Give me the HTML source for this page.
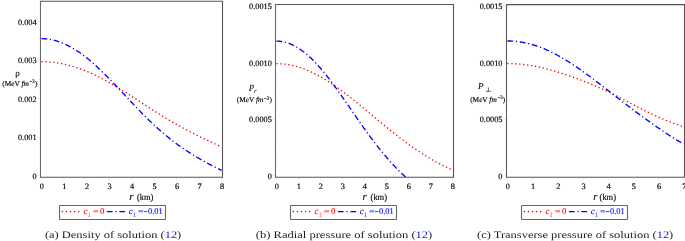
<!DOCTYPE html>
<html><head><meta charset="utf-8"><style>
html,body{margin:0;padding:0;background:#fff;width:685px;height:241px;overflow:hidden}
svg{display:block;will-change:transform}
text{font-family:"Liberation Serif",serif;text-rendering:geometricPrecision}
.t{font-size:8.3px;stroke:#000;stroke-width:0.18px}
.ax{font-size:9px;stroke:#000;stroke-width:0.1px}
.mev{font-size:7.4px;stroke:#000;stroke-width:0.15px}
.sup{font-size:5.2px;stroke:#000;stroke-width:0.15px}
.sub{font-size:6.8px}
.lgs{font-size:7.4px}
.rt{font-size:10.8px;font-style:italic;stroke:#000;stroke-width:0.12px}
.km{font-size:9px;stroke:#000;stroke-width:0.15px}
.lg{font-size:8.8px;stroke-width:0.12px}
.cap{font-size:10px;fill:#1a1a1a}
</style></head><body>
<svg width="685" height="241" viewBox="0 0 685 241">
<defs>
<clipPath id="clipa"><rect x="40.5" y="1.2" width="182.0" height="176.0"/></clipPath>
<clipPath id="clipb"><rect x="275.5" y="4.5" width="178.0" height="172.7"/></clipPath>
<clipPath id="clipc"><rect x="506.5" y="4.6" width="178.0" height="172.6"/></clipPath>
</defs>
<path d="M41.40 177.2v3M52.66 177.2v1.6M63.93 177.2v3M75.19 177.2v1.6M86.46 177.2v3M97.73 177.2v1.6M108.99 177.2v3M120.26 177.2v1.6M131.52 177.2v3M142.79 177.2v1.6M154.05 177.2v3M165.31 177.2v1.6M176.58 177.2v3M187.85 177.2v1.6M199.11 177.2v3M210.38 177.2v1.6M221.64 177.2v3M40.5 175.70h-3M40.5 137.20h-3M40.5 98.70h-3M40.5 60.20h-3M40.5 21.70h-3M40.5 156.45h-1.6M40.5 117.95h-1.6M40.5 79.45h-1.6M40.5 40.95h-1.6" stroke="#d8d8d8" stroke-width="0.6" fill="none"/>
<g clip-path="url(#clipa)" fill="none" stroke-width="1.35">
<polyline points="41.4,61.67 41.9,61.67 42.4,61.68 42.9,61.68 43.4,61.69 43.9,61.70 44.4,61.71 44.9,61.73 45.4,61.75 45.9,61.77 46.4,61.79 46.9,61.82 47.4,61.84 47.9,61.88 48.4,61.91 48.9,61.94 49.4,61.98 49.9,62.02 50.4,62.06 50.9,62.11 51.4,62.15 51.9,62.20 52.4,62.26 52.9,62.31 53.4,62.37 53.9,62.43 54.4,62.49 54.9,62.55 55.4,62.62 55.9,62.69 56.4,62.76 56.9,62.83 57.4,62.91 57.9,62.99 58.4,63.07 58.9,63.15 59.4,63.24 59.9,63.32 60.4,63.41 60.9,63.51 61.4,63.60 61.9,63.70 62.4,63.80 62.9,63.90 63.4,64.00 63.9,64.11 64.4,64.22 64.9,64.33 65.4,64.45 65.9,64.56 66.4,64.68 66.9,64.80 67.4,64.92 67.9,65.05 68.4,65.18 68.9,65.31 69.4,65.44 69.9,65.57 70.4,65.71 70.9,65.85 71.4,65.99 71.9,66.13 72.4,66.28 72.9,66.43 73.4,66.58 73.9,66.73 74.4,66.88 74.9,67.04 75.4,67.20 75.9,67.36 76.4,67.52 76.9,67.69 77.4,67.86 77.9,68.03 78.4,68.20 79.0,68.38 79.5,68.55 80.0,68.73 80.5,68.91 81.0,69.09 81.5,69.28 82.0,69.47 82.5,69.66 83.0,69.85 83.5,70.04 84.0,70.24 84.5,70.43 85.0,70.63 85.5,70.84 86.0,71.04 86.5,71.24 87.0,71.45 87.5,71.66 88.0,71.87 88.5,72.09 89.0,72.30 89.5,72.52 90.0,72.74 90.5,72.96 91.0,73.19 91.5,73.41 92.0,73.64 92.5,73.87 93.0,74.10 93.5,74.33 94.0,74.57 94.5,74.80 95.0,75.04 95.5,75.28 96.0,75.52 96.5,75.77 97.0,76.01 97.5,76.26 98.0,76.51 98.5,76.76 99.0,77.01 99.5,77.27 100.0,77.52 100.5,77.78 101.0,78.04 101.5,78.30 102.0,78.56 102.5,78.82 103.0,79.09 103.5,79.36 104.0,79.62 104.5,79.89 105.0,80.17 105.5,80.44 106.0,80.71 106.5,80.99 107.0,81.27 107.5,81.55 108.0,81.83 108.5,82.11 109.0,82.39 109.5,82.68 110.0,82.96 110.5,83.25 111.0,83.54 111.5,83.83 112.0,84.12 112.5,84.41 113.0,84.70 113.5,85.00 114.0,85.29 114.5,85.59 115.0,85.89 115.5,86.19 116.0,86.49 116.5,86.79 117.0,87.09 117.5,87.39 118.0,87.70 118.5,88.00 119.0,88.31 119.5,88.61 120.0,88.92 120.5,89.23 121.0,89.54 121.5,89.85 122.0,90.16 122.5,90.48 123.0,90.79 123.5,91.10 124.0,91.42 124.5,91.73 125.0,92.05 125.5,92.37 126.0,92.68 126.5,93.00 127.0,93.32 127.5,93.64 128.0,93.96 128.5,94.28 129.0,94.60 129.5,94.92 130.0,95.24 130.5,95.57 131.0,95.89 131.5,96.21 132.0,96.53 132.5,96.86 133.0,97.18 133.5,97.51 134.0,97.83 134.5,98.16 135.0,98.48 135.5,98.81 136.0,99.13 136.5,99.46 137.0,99.78 137.5,100.11 138.0,100.44 138.5,100.76 139.0,101.09 139.5,101.42 140.0,101.74 140.5,102.07 141.0,102.40 141.5,102.72 142.0,103.05 142.5,103.38 143.0,103.70 143.5,104.03 144.0,104.35 144.5,104.68 145.0,105.00 145.5,105.33 146.0,105.66 146.5,105.98 147.0,106.30 147.5,106.63 148.0,106.95 148.5,107.28 149.0,107.60 149.5,107.92 150.0,108.25 150.5,108.57 151.0,108.89 151.5,109.21 152.0,109.53 152.5,109.85 153.0,110.17 153.5,110.49 154.1,110.81 154.6,111.13 155.1,111.45 155.6,111.76 156.1,112.08 156.6,112.39 157.1,112.71 157.6,113.02 158.1,113.34 158.6,113.65 159.1,113.96 159.6,114.28 160.1,114.59 160.6,114.90 161.1,115.21 161.6,115.52 162.1,115.83 162.6,116.13 163.1,116.44 163.6,116.75 164.1,117.05 164.6,117.36 165.1,117.66 165.6,117.96 166.1,118.26 166.6,118.57 167.1,118.87 167.6,119.17 168.1,119.46 168.6,119.76 169.1,120.06 169.6,120.36 170.1,120.65 170.6,120.95 171.1,121.24 171.6,121.53 172.1,121.82 172.6,122.11 173.1,122.40 173.6,122.69 174.1,122.98 174.6,123.27 175.1,123.55 175.6,123.84 176.1,124.12 176.6,124.41 177.1,124.69 177.6,124.97 178.1,125.25 178.6,125.53 179.1,125.81 179.6,126.09 180.1,126.37 180.6,126.64 181.1,126.92 181.6,127.19 182.1,127.47 182.6,127.74 183.1,128.01 183.6,128.29 184.1,128.56 184.6,128.83 185.1,129.09 185.6,129.36 186.1,129.63 186.6,129.90 187.1,130.16 187.6,130.43 188.1,130.69 188.6,130.95 189.1,131.22 189.6,131.48 190.1,131.74 190.6,132.00 191.1,132.26 191.6,132.52 192.1,132.78 192.6,133.03 193.1,133.29 193.6,133.55 194.1,133.80 194.6,134.06 195.1,134.31 195.6,134.56 196.1,134.82 196.6,135.07 197.1,135.32 197.6,135.57 198.1,135.82 198.6,136.07 199.1,136.32 199.6,136.57 200.1,136.82 200.6,137.07 201.1,137.31 201.6,137.56 202.1,137.80 202.6,138.05 203.1,138.29 203.6,138.54 204.1,138.78 204.6,139.02 205.1,139.27 205.6,139.51 206.1,139.75 206.6,139.99 207.1,140.23 207.6,140.47 208.1,140.71 208.6,140.94 209.1,141.18 209.6,141.42 210.1,141.65 210.6,141.89 211.1,142.12 211.6,142.36 212.1,142.59 212.6,142.82 213.1,143.06 213.6,143.29 214.1,143.52 214.6,143.75 215.1,143.98 215.6,144.20 216.1,144.43 216.6,144.65 217.1,144.88 217.6,145.10 218.1,145.32 218.6,145.55 219.1,145.77 219.6,145.98 220.1,146.20 220.6,146.42 221.1,146.63 221.6,146.84" stroke="#ff0000" stroke-dasharray="1.3 2.65" />
<polyline points="41.4,38.66 41.9,38.66 42.4,38.67 42.9,38.68 43.4,38.70 43.9,38.72 44.4,38.75 44.9,38.78 45.4,38.82 45.9,38.86 46.4,38.91 46.9,38.96 47.4,39.02 47.9,39.08 48.4,39.15 48.9,39.22 49.4,39.30 49.9,39.38 50.4,39.47 50.9,39.56 51.4,39.65 51.9,39.76 52.4,39.86 52.9,39.97 53.4,40.09 53.9,40.21 54.4,40.34 54.9,40.47 55.4,40.60 55.9,40.74 56.4,40.89 56.9,41.04 57.4,41.19 57.9,41.35 58.4,41.52 58.9,41.69 59.4,41.86 59.9,42.04 60.4,42.22 60.9,42.41 61.4,42.60 61.9,42.80 62.4,43.00 62.9,43.21 63.4,43.42 63.9,43.63 64.4,43.85 64.9,44.08 65.4,44.31 65.9,44.54 66.4,44.78 66.9,45.02 67.4,45.27 67.9,45.52 68.4,45.78 68.9,46.04 69.4,46.30 69.9,46.57 70.4,46.84 70.9,47.12 71.4,47.40 71.9,47.69 72.4,47.98 72.9,48.27 73.4,48.57 73.9,48.88 74.4,49.18 74.9,49.49 75.4,49.81 75.9,50.13 76.4,50.45 76.9,50.78 77.4,51.11 77.9,51.44 78.4,51.78 79.0,52.13 79.5,52.47 80.0,52.82 80.5,53.18 81.0,53.54 81.5,53.90 82.0,54.26 82.5,54.63 83.0,55.00 83.5,55.38 84.0,55.76 84.5,56.14 85.0,56.53 85.5,56.92 86.0,57.32 86.5,57.71 87.0,58.11 87.5,58.52 88.0,58.92 88.5,59.33 89.0,59.75 89.5,60.16 90.0,60.58 90.5,61.01 91.0,61.43 91.5,61.86 92.0,62.29 92.5,62.73 93.0,63.17 93.5,63.61 94.0,64.05 94.5,64.50 95.0,64.95 95.5,65.40 96.0,65.85 96.5,66.31 97.0,66.77 97.5,67.23 98.0,67.70 98.5,68.17 99.0,68.64 99.5,69.11 100.0,69.58 100.5,70.06 101.0,70.54 101.5,71.02 102.0,71.50 102.5,71.99 103.0,72.48 103.5,72.97 104.0,73.46 104.5,73.95 105.0,74.45 105.5,74.94 106.0,75.44 106.5,75.94 107.0,76.45 107.5,76.95 108.0,77.46 108.5,77.96 109.0,78.47 109.5,78.98 110.0,79.50 110.5,80.01 111.0,80.52 111.5,81.04 112.0,81.56 112.5,82.08 113.0,82.60 113.5,83.12 114.0,83.64 114.5,84.16 115.0,84.69 115.5,85.21 116.0,85.74 116.5,86.27 117.0,86.79 117.5,87.32 118.0,87.85 118.5,88.38 119.0,88.91 119.5,89.44 120.0,89.97 120.5,90.51 121.0,91.04 121.5,91.57 122.0,92.10 122.5,92.64 123.0,93.17 123.5,93.70 124.0,94.24 124.5,94.77 125.0,95.31 125.5,95.84 126.0,96.38 126.5,96.91 127.0,97.44 127.5,97.98 128.0,98.51 128.5,99.04 129.0,99.58 129.5,100.11 130.0,100.64 130.5,101.18 131.0,101.71 131.5,102.24 132.0,102.77 132.5,103.30 133.0,103.83 133.5,104.36 134.0,104.88 134.5,105.41 135.0,105.94 135.5,106.46 136.0,106.99 136.5,107.51 137.0,108.03 137.5,108.55 138.0,109.08 138.5,109.59 139.0,110.11 139.5,110.63 140.0,111.15 140.5,111.66 141.0,112.17 141.5,112.69 142.0,113.20 142.5,113.71 143.0,114.21 143.5,114.72 144.0,115.23 144.5,115.73 145.0,116.23 145.5,116.73 146.0,117.23 146.5,117.73 147.0,118.22 147.5,118.72 148.0,119.21 148.5,119.70 149.0,120.19 149.5,120.68 150.0,121.16 150.5,121.65 151.0,122.13 151.5,122.61 152.0,123.08 152.5,123.56 153.0,124.03 153.5,124.50 154.1,124.97 154.6,125.44 155.1,125.91 155.6,126.37 156.1,126.83 156.6,127.29 157.1,127.75 157.6,128.20 158.1,128.66 158.6,129.11 159.1,129.55 159.6,130.00 160.1,130.44 160.6,130.89 161.1,131.33 161.6,131.76 162.1,132.20 162.6,132.63 163.1,133.06 163.6,133.49 164.1,133.92 164.6,134.34 165.1,134.76 165.6,135.18 166.1,135.60 166.6,136.01 167.1,136.42 167.6,136.83 168.1,137.24 168.6,137.64 169.1,138.05 169.6,138.45 170.1,138.85 170.6,139.24 171.1,139.64 171.6,140.03 172.1,140.42 172.6,140.80 173.1,141.19 173.6,141.57 174.1,141.95 174.6,142.33 175.1,142.71 175.6,143.08 176.1,143.45 176.6,143.82 177.1,144.19 177.6,144.55 178.1,144.92 178.6,145.28 179.1,145.63 179.6,145.99 180.1,146.35 180.6,146.70 181.1,147.05 181.6,147.40 182.1,147.74 182.6,148.09 183.1,148.43 183.6,148.77 184.1,149.11 184.6,149.45 185.1,149.78 185.6,150.11 186.1,150.45 186.6,150.78 187.1,151.10 187.6,151.43 188.1,151.75 188.6,152.08 189.1,152.40 189.6,152.72 190.1,153.03 190.6,153.35 191.1,153.66 191.6,153.98 192.1,154.29 192.6,154.60 193.1,154.91 193.6,155.21 194.1,155.52 194.6,155.82 195.1,156.13 195.6,156.43 196.1,156.73 196.6,157.03 197.1,157.32 197.6,157.62 198.1,157.91 198.6,158.21 199.1,158.50 199.6,158.79 200.1,159.08 200.6,159.37 201.1,159.66 201.6,159.94 202.1,160.23 202.6,160.51 203.1,160.79 203.6,161.07 204.1,161.35 204.6,161.63 205.1,161.91 205.6,162.19 206.1,162.46 206.6,162.74 207.1,163.01 207.6,163.28 208.1,163.55 208.6,163.82 209.1,164.09 209.6,164.36 210.1,164.63 210.6,164.89 211.1,165.15 211.6,165.42 212.1,165.68 212.6,165.93 213.1,166.19 213.6,166.45 214.1,166.70 214.6,166.95 215.1,167.20 215.6,167.45 216.1,167.70 216.6,167.94 217.1,168.19 217.6,168.43 218.1,168.67 218.6,168.90 219.1,169.14 219.6,169.37 220.1,169.60 220.6,169.82 221.1,170.05 221.6,170.27" stroke="#0000ff" stroke-dasharray="5.8 2.7 1.2 2.7" />
</g>
<path d="M39.95 1.2H223.05M39.95 177.2H223.05" stroke="#555555" stroke-width="1.1" fill="none"/>
<path d="M40.5 1.2V177.2" stroke="#6c6c6c" stroke-width="1.1" fill="none"/>
<path d="M222.5 1.2V177.2" stroke="#555555" stroke-width="1.1" fill="none"/>
<text x="41.90" y="188.9" class="t" text-anchor="middle">0</text>
<text x="64.43" y="188.9" class="t" text-anchor="middle">1</text>
<text x="86.96" y="188.9" class="t" text-anchor="middle">2</text>
<text x="109.49" y="188.9" class="t" text-anchor="middle">3</text>
<text x="132.02" y="188.9" class="t" text-anchor="middle">4</text>
<text x="154.55" y="188.9" class="t" text-anchor="middle">5</text>
<text x="177.08" y="188.9" class="t" text-anchor="middle">6</text>
<text x="199.61" y="188.9" class="t" text-anchor="middle">7</text>
<text x="222.14" y="188.9" class="t" text-anchor="middle">8</text>
<text x="36.6" y="178.80" class="t" text-anchor="end">0</text>
<text x="36.6" y="140.30" class="t" text-anchor="end">0.001</text>
<text x="36.6" y="101.80" class="t" text-anchor="end">0.002</text>
<text x="36.6" y="63.30" class="t" text-anchor="end">0.003</text>
<text x="36.6" y="24.80" class="t" text-anchor="end">0.004</text>
<path d="M276.40 177.2v3M287.40 177.2v1.6M298.40 177.2v3M309.40 177.2v1.6M320.40 177.2v3M331.40 177.2v1.6M342.40 177.2v3M353.40 177.2v1.6M364.40 177.2v3M375.40 177.2v1.6M386.40 177.2v3M397.40 177.2v1.6M408.40 177.2v3M419.40 177.2v1.6M430.40 177.2v3M441.40 177.2v1.6M452.40 177.2v3M275.5 175.60h-3M275.5 119.00h-3M275.5 62.40h-3M275.5 5.80h-3M275.5 147.30h-1.6M275.5 90.70h-1.6M275.5 34.10h-1.6" stroke="#d8d8d8" stroke-width="0.6" fill="none"/>
<g clip-path="url(#clipb)" fill="none" stroke-width="1.35">
<polyline points="276.4,63.65 276.9,63.66 277.4,63.66 277.9,63.67 278.4,63.68 278.9,63.70 279.4,63.72 279.9,63.74 280.4,63.77 280.9,63.80 281.4,63.83 281.9,63.87 282.4,63.91 282.9,63.95 283.4,64.00 283.9,64.05 284.4,64.11 284.9,64.17 285.4,64.23 285.9,64.29 286.4,64.36 286.9,64.43 287.4,64.51 287.9,64.59 288.4,64.67 288.9,64.76 289.4,64.85 289.9,64.94 290.4,65.04 290.9,65.14 291.4,65.24 291.9,65.35 292.4,65.46 292.9,65.57 293.4,65.69 293.9,65.81 294.4,65.93 294.9,66.06 295.4,66.19 295.9,66.33 296.4,66.46 296.9,66.60 297.4,66.75 297.9,66.89 298.4,67.05 298.9,67.20 299.4,67.36 299.9,67.52 300.4,67.68 300.9,67.85 301.4,68.02 301.9,68.19 302.4,68.37 302.9,68.55 303.4,68.73 303.9,68.92 304.4,69.11 304.9,69.30 305.4,69.49 305.9,69.69 306.4,69.90 306.9,70.10 307.4,70.31 307.9,70.52 308.4,70.73 308.9,70.95 309.4,71.17 309.9,71.39 310.4,71.62 310.9,71.85 311.4,72.08 311.9,72.31 312.4,72.55 312.9,72.79 313.4,73.04 313.9,73.28 314.4,73.53 314.9,73.78 315.4,74.04 315.9,74.30 316.4,74.56 316.9,74.82 317.4,75.08 317.9,75.35 318.4,75.62 318.9,75.90 319.4,76.17 319.9,76.45 320.4,76.73 320.9,77.02 321.4,77.30 321.9,77.59 322.4,77.89 322.9,78.18 323.4,78.48 323.9,78.78 324.4,79.08 324.9,79.38 325.4,79.69 325.9,80.00 326.4,80.31 326.9,80.62 327.4,80.94 327.9,81.25 328.4,81.57 328.9,81.90 329.4,82.22 329.9,82.55 330.4,82.88 330.9,83.21 331.4,83.54 331.9,83.87 332.4,84.21 332.9,84.55 333.4,84.89 333.9,85.23 334.4,85.58 334.9,85.93 335.4,86.28 335.9,86.63 336.4,86.98 336.9,87.33 337.4,87.69 337.9,88.05 338.4,88.41 338.9,88.77 339.4,89.13 339.9,89.50 340.4,89.86 340.9,90.23 341.4,90.60 341.9,90.97 342.4,91.35 342.9,91.72 343.4,92.10 343.9,92.47 344.4,92.85 344.9,93.23 345.4,93.61 345.9,94.00 346.4,94.38 346.9,94.77 347.4,95.15 347.9,95.54 348.4,95.93 348.9,96.32 349.4,96.71 349.9,97.11 350.4,97.50 350.9,97.90 351.4,98.29 351.9,98.69 352.4,99.09 352.9,99.49 353.4,99.89 353.9,100.29 354.4,100.69 354.9,101.09 355.4,101.50 355.9,101.90 356.4,102.31 356.9,102.71 357.4,103.12 357.9,103.53 358.4,103.94 358.9,104.34 359.4,104.75 359.9,105.16 360.4,105.58 360.9,105.99 361.4,106.40 361.9,106.81 362.4,107.22 362.9,107.64 363.4,108.05 363.9,108.47 364.4,108.88 364.9,109.29 365.4,109.71 365.9,110.13 366.4,110.54 366.9,110.96 367.4,111.37 367.9,111.79 368.4,112.21 368.9,112.62 369.4,113.04 369.9,113.46 370.4,113.87 370.9,114.29 371.4,114.71 371.9,115.13 372.4,115.54 372.9,115.96 373.4,116.38 373.9,116.79 374.4,117.21 374.9,117.63 375.4,118.04 375.9,118.46 376.4,118.88 376.9,119.29 377.4,119.71 377.9,120.12 378.4,120.54 378.9,120.95 379.4,121.37 379.9,121.78 380.4,122.19 380.9,122.61 381.4,123.02 381.9,123.43 382.4,123.84 382.9,124.26 383.4,124.67 383.9,125.08 384.4,125.49 384.9,125.90 385.4,126.30 385.9,126.71 386.4,127.12 386.9,127.53 387.4,127.93 387.9,128.34 388.4,128.74 388.9,129.14 389.4,129.55 389.9,129.95 390.4,130.35 390.9,130.75 391.4,131.15 391.9,131.55 392.4,131.95 392.9,132.35 393.4,132.74 393.9,133.14 394.4,133.53 394.9,133.92 395.4,134.32 395.9,134.71 396.4,135.10 396.9,135.49 397.4,135.88 397.9,136.26 398.4,136.65 398.9,137.04 399.4,137.42 399.9,137.80 400.4,138.19 400.9,138.57 401.4,138.95 401.9,139.32 402.4,139.70 402.9,140.08 403.4,140.45 403.9,140.83 404.4,141.20 404.9,141.57 405.4,141.94 405.9,142.31 406.4,142.68 406.9,143.05 407.4,143.41 407.9,143.77 408.4,144.14 408.9,144.50 409.4,144.86 409.9,145.22 410.4,145.57 410.9,145.93 411.4,146.28 411.9,146.64 412.4,146.99 412.9,147.34 413.4,147.69 413.9,148.04 414.4,148.38 414.9,148.73 415.4,149.07 415.9,149.41 416.4,149.75 416.9,150.09 417.4,150.43 417.9,150.77 418.4,151.10 418.9,151.43 419.4,151.76 419.9,152.09 420.4,152.42 420.9,152.75 421.4,153.08 421.9,153.40 422.4,153.72 422.9,154.04 423.4,154.36 423.9,154.68 424.4,155.00 424.9,155.31 425.4,155.62 425.9,155.94 426.4,156.24 426.9,156.55 427.4,156.86 427.9,157.16 428.4,157.47 428.9,157.77 429.4,158.07 429.9,158.37 430.4,158.66 430.9,158.96 431.4,159.25 431.9,159.54 432.4,159.83 432.9,160.12 433.4,160.41 433.9,160.69 434.4,160.98 434.9,161.26 435.4,161.54 435.9,161.81 436.4,162.09 436.9,162.36 437.4,162.64 437.9,162.91 438.4,163.17 438.9,163.44 439.4,163.71 439.9,163.97 440.4,164.23 440.9,164.49 441.4,164.74 441.9,165.00 442.4,165.25 442.9,165.50 443.4,165.75 443.9,166.00 444.4,166.24 444.9,166.49 445.4,166.73 445.9,166.96 446.4,167.20 446.9,167.43 447.4,167.67 447.9,167.90 448.4,168.12 448.9,168.35 449.4,168.57 449.9,168.79 450.4,169.01 450.9,169.22 451.4,169.44 451.9,169.65 452.4,169.85" stroke="#ff0000" stroke-dasharray="1.3 2.65" />
<polyline points="276.4,41.11 276.9,41.11 277.4,41.12 277.9,41.14 278.4,41.17 278.9,41.20 279.4,41.24 279.9,41.29 280.4,41.34 280.9,41.41 281.4,41.48 281.9,41.56 282.4,41.64 282.9,41.73 283.4,41.83 283.9,41.94 284.4,42.05 284.9,42.17 285.4,42.30 285.9,42.44 286.4,42.58 286.9,42.73 287.4,42.89 287.9,43.06 288.4,43.23 288.9,43.41 289.4,43.60 289.9,43.79 290.4,43.99 290.9,44.20 291.4,44.42 291.9,44.64 292.4,44.87 292.9,45.10 293.4,45.35 293.9,45.60 294.4,45.86 294.9,46.12 295.4,46.39 295.9,46.67 296.4,46.96 296.9,47.25 297.4,47.55 297.9,47.86 298.4,48.17 298.9,48.49 299.4,48.82 299.9,49.15 300.4,49.49 300.9,49.84 301.4,50.19 301.9,50.55 302.4,50.92 302.9,51.29 303.4,51.67 303.9,52.05 304.4,52.45 304.9,52.85 305.4,53.25 305.9,53.66 306.4,54.08 306.9,54.50 307.4,54.93 307.9,55.37 308.4,55.81 308.9,56.26 309.4,56.72 309.9,57.18 310.4,57.64 310.9,58.11 311.4,58.59 311.9,59.08 312.4,59.57 312.9,60.06 313.4,60.56 313.9,61.07 314.4,61.58 314.9,62.10 315.4,62.62 315.9,63.15 316.4,63.68 316.9,64.22 317.4,64.76 317.9,65.31 318.4,65.87 318.9,66.43 319.4,66.99 319.9,67.56 320.4,68.13 320.9,68.71 321.4,69.29 321.9,69.88 322.4,70.47 322.9,71.07 323.4,71.67 323.9,72.28 324.4,72.89 324.9,73.50 325.4,74.12 325.9,74.74 326.4,75.37 326.9,76.00 327.4,76.63 327.9,77.27 328.4,77.91 328.9,78.56 329.4,79.21 329.9,79.86 330.4,80.52 330.9,81.17 331.4,81.84 331.9,82.50 332.4,83.17 332.9,83.84 333.4,84.52 333.9,85.20 334.4,85.88 334.9,86.56 335.4,87.25 335.9,87.93 336.4,88.63 336.9,89.32 337.4,90.02 337.9,90.71 338.4,91.41 338.9,92.12 339.4,92.82 339.9,93.53 340.4,94.23 340.9,94.94 341.4,95.65 341.9,96.37 342.4,97.08 342.9,97.80 343.4,98.51 343.9,99.23 344.4,99.95 344.9,100.67 345.4,101.39 345.9,102.12 346.4,102.84 346.9,103.56 347.4,104.29 347.9,105.01 348.4,105.74 348.9,106.47 349.4,107.19 349.9,107.92 350.4,108.65 350.9,109.37 351.4,110.10 351.9,110.83 352.4,111.55 352.9,112.28 353.4,113.01 353.9,113.73 354.4,114.46 354.9,115.18 355.4,115.90 355.9,116.63 356.4,117.35 356.9,118.07 357.4,118.79 357.9,119.51 358.4,120.23 358.9,120.95 359.4,121.67 359.9,122.38 360.4,123.10 360.9,123.81 361.4,124.52 361.9,125.23 362.4,125.94 362.9,126.64 363.4,127.35 363.9,128.05 364.4,128.75 364.9,129.45 365.4,130.15 365.9,130.84 366.4,131.54 366.9,132.23 367.4,132.92 367.9,133.60 368.4,134.29 368.9,134.97 369.4,135.65 369.9,136.33 370.4,137.00 370.9,137.68 371.4,138.35 371.9,139.01 372.4,139.68 372.9,140.34 373.4,141.00 373.9,141.66 374.4,142.31 374.9,142.97 375.4,143.61 375.9,144.26 376.4,144.90 376.9,145.55 377.4,146.18 377.9,146.82 378.4,147.45 378.9,148.08 379.4,148.71 379.9,149.33 380.4,149.95 380.9,150.57 381.4,151.18 381.9,151.79 382.4,152.40 382.9,153.01 383.4,153.61 383.9,154.21 384.4,154.81 384.9,155.40 385.4,155.99 385.9,156.58 386.4,157.16 386.9,157.74 387.4,158.32 387.9,158.89 388.4,159.46 388.9,160.03 389.4,160.60 389.9,161.16 390.4,161.72 390.9,162.28 391.4,162.83 391.9,163.38 392.4,163.92 392.9,164.47 393.4,165.00 393.9,165.54 394.4,166.07 394.9,166.60 395.4,167.13 395.9,167.65 396.4,168.17 396.9,168.69 397.4,169.20 397.9,169.71 398.4,170.21 398.9,170.71 399.4,171.21 399.9,171.70 400.4,172.19 400.9,172.68 401.4,173.16 401.9,173.64 402.4,174.11 402.9,174.58 403.4,175.04 403.9,175.50 404.4,175.96 404.9,176.41 405.4,176.85 405.9,177.29 406.4,177.73 406.9,178.16 407.4,178.58 407.9,179.00 408.4,179.41 408.9,179.82 409.4,180.21" stroke="#0000ff" stroke-dasharray="5.8 2.7 1.2 2.7" />
</g>
<path d="M274.95 4.5H454.05M274.95 177.2H454.05" stroke="#555555" stroke-width="1.1" fill="none"/>
<path d="M275.5 4.5V177.2" stroke="#6c6c6c" stroke-width="1.1" fill="none"/>
<path d="M453.5 4.5V177.2" stroke="#555555" stroke-width="1.1" fill="none"/>
<text x="276.90" y="188.9" class="t" text-anchor="middle">0</text>
<text x="298.90" y="188.9" class="t" text-anchor="middle">1</text>
<text x="320.90" y="188.9" class="t" text-anchor="middle">2</text>
<text x="342.90" y="188.9" class="t" text-anchor="middle">3</text>
<text x="364.90" y="188.9" class="t" text-anchor="middle">4</text>
<text x="386.90" y="188.9" class="t" text-anchor="middle">5</text>
<text x="408.90" y="188.9" class="t" text-anchor="middle">6</text>
<text x="430.90" y="188.9" class="t" text-anchor="middle">7</text>
<text x="452.90" y="188.9" class="t" text-anchor="middle">8</text>
<text x="271.9" y="178.70" class="t" text-anchor="end">0</text>
<text x="271.9" y="122.10" class="t" text-anchor="end">0.0005</text>
<text x="271.9" y="65.50" class="t" text-anchor="end">0.0010</text>
<text x="271.9" y="8.90" class="t" text-anchor="end">0.0015</text>
<path d="M507.40 177.2v3M520.00 177.2v1.6M532.59 177.2v3M545.19 177.2v1.6M557.78 177.2v3M570.38 177.2v1.6M582.97 177.2v3M595.57 177.2v1.6M608.16 177.2v3M620.75 177.2v1.6M633.35 177.2v3M645.95 177.2v1.6M658.54 177.2v3M671.13 177.2v1.6M683.73 177.2v3M506.5 175.60h-3M506.5 119.00h-3M506.5 62.40h-3M506.5 5.80h-3M506.5 147.30h-1.6M506.5 90.70h-1.6M506.5 34.10h-1.6" stroke="#d8d8d8" stroke-width="0.6" fill="none"/>
<g clip-path="url(#clipc)" fill="none" stroke-width="1.35">
<polyline points="507.4,63.51 507.9,63.51 508.4,63.51 508.9,63.51 509.4,63.52 509.9,63.53 510.4,63.54 510.9,63.55 511.4,63.57 511.9,63.58 512.4,63.60 512.9,63.62 513.4,63.64 513.9,63.66 514.4,63.69 514.9,63.72 515.4,63.75 515.9,63.78 516.4,63.81 516.9,63.84 517.4,63.88 517.9,63.92 518.4,63.96 518.9,64.00 519.4,64.04 519.9,64.09 520.4,64.14 520.9,64.18 521.4,64.24 521.9,64.29 522.4,64.34 522.9,64.40 523.4,64.46 523.9,64.52 524.4,64.58 524.9,64.64 525.4,64.70 525.9,64.77 526.4,64.84 526.9,64.91 527.4,64.98 527.9,65.05 528.4,65.13 528.9,65.20 529.4,65.28 529.9,65.36 530.4,65.44 530.9,65.53 531.4,65.61 531.9,65.70 532.4,65.79 532.9,65.87 533.4,65.97 533.9,66.06 534.5,66.15 535.0,66.25 535.5,66.34 536.0,66.44 536.5,66.54 537.0,66.64 537.5,66.75 538.0,66.85 538.5,66.96 539.0,67.07 539.5,67.17 540.0,67.28 540.5,67.40 541.0,67.51 541.5,67.62 542.0,67.74 542.5,67.86 543.0,67.98 543.5,68.09 544.0,68.22 544.5,68.34 545.0,68.46 545.5,68.59 546.0,68.71 546.5,68.84 547.0,68.97 547.5,69.10 548.0,69.23 548.5,69.36 549.0,69.50 549.5,69.63 550.0,69.77 550.5,69.91 551.0,70.04 551.5,70.18 552.0,70.32 552.5,70.47 553.0,70.61 553.5,70.75 554.0,70.90 554.5,71.04 555.0,71.19 555.5,71.34 556.0,71.49 556.5,71.64 557.0,71.79 557.5,71.94 558.0,72.10 558.5,72.25 559.0,72.41 559.5,72.56 560.0,72.72 560.5,72.88 561.0,73.04 561.5,73.20 562.0,73.36 562.5,73.52 563.0,73.69 563.5,73.85 564.0,74.01 564.5,74.18 565.0,74.35 565.5,74.51 566.0,74.68 566.5,74.85 567.0,75.02 567.5,75.19 568.0,75.37 568.5,75.54 569.0,75.71 569.5,75.89 570.0,76.06 570.5,76.24 571.0,76.42 571.5,76.59 572.0,76.77 572.5,76.95 573.0,77.13 573.5,77.32 574.0,77.50 574.5,77.68 575.0,77.86 575.5,78.05 576.0,78.23 576.5,78.42 577.0,78.61 577.5,78.79 578.0,78.98 578.5,79.17 579.0,79.36 579.5,79.55 580.0,79.75 580.5,79.94 581.0,80.13 581.5,80.33 582.0,80.52 582.5,80.72 583.0,80.91 583.5,81.11 584.0,81.31 584.5,81.51 585.0,81.71 585.5,81.91 586.0,82.11 586.5,82.31 587.0,82.51 587.5,82.72 588.1,82.92 588.6,83.13 589.1,83.33 589.6,83.54 590.1,83.75 590.6,83.96 591.1,84.17 591.6,84.38 592.1,84.59 592.6,84.80 593.1,85.01 593.6,85.23 594.1,85.44 594.6,85.66 595.1,85.87 595.6,86.09 596.1,86.31 596.6,86.53 597.1,86.75 597.6,86.97 598.1,87.19 598.6,87.41 599.1,87.63 599.6,87.86 600.1,88.08 600.6,88.31 601.1,88.53 601.6,88.76 602.1,88.99 602.6,89.22 603.1,89.45 603.6,89.68 604.1,89.91 604.6,90.14 605.1,90.37 605.6,90.61 606.1,90.84 606.6,91.08 607.1,91.31 607.6,91.55 608.1,91.79 608.6,92.03 609.1,92.27 609.6,92.51 610.1,92.75 610.6,92.99 611.1,93.24 611.6,93.48 612.1,93.73 612.6,93.97 613.1,94.22 613.6,94.46 614.1,94.71 614.6,94.96 615.1,95.21 615.6,95.46 616.1,95.71 616.6,95.96 617.1,96.21 617.6,96.47 618.1,96.72 618.6,96.97 619.1,97.23 619.6,97.49 620.1,97.74 620.6,98.00 621.1,98.26 621.6,98.51 622.1,98.77 622.6,99.03 623.1,99.29 623.6,99.55 624.1,99.81 624.6,100.07 625.1,100.33 625.6,100.60 626.1,100.86 626.6,101.12 627.1,101.38 627.6,101.65 628.1,101.91 628.6,102.18 629.1,102.44 629.6,102.70 630.1,102.97 630.6,103.23 631.1,103.50 631.6,103.76 632.1,104.03 632.6,104.29 633.1,104.56 633.6,104.82 634.1,105.09 634.6,105.35 635.1,105.62 635.6,105.88 636.1,106.15 636.6,106.41 637.1,106.68 637.6,106.94 638.1,107.20 638.6,107.47 639.1,107.73 639.6,107.99 640.1,108.25 640.6,108.52 641.2,108.78 641.7,109.04 642.2,109.30 642.7,109.55 643.2,109.81 643.7,110.07 644.2,110.33 644.7,110.58 645.2,110.84 645.7,111.09 646.2,111.34 646.7,111.60 647.2,111.85 647.7,112.10 648.2,112.35 648.7,112.59 649.2,112.84 649.7,113.08 650.2,113.33 650.7,113.57 651.2,113.81 651.7,114.05 652.2,114.29 652.7,114.53 653.2,114.76 653.7,115.00 654.2,115.23 654.7,115.46 655.2,115.69 655.7,115.92 656.2,116.15 656.7,116.37 657.2,116.60 657.7,116.82 658.2,117.04 658.7,117.26 659.2,117.47 659.7,117.69 660.2,117.90 660.7,118.11 661.2,118.32 661.7,118.53 662.2,118.74 662.7,118.94 663.2,119.15 663.7,119.35 664.2,119.55 664.7,119.75 665.2,119.94 665.7,120.14 666.2,120.33 666.7,120.53 667.2,120.72 667.7,120.91 668.2,121.10 668.7,121.28 669.2,121.47 669.7,121.65 670.2,121.84 670.7,122.02 671.2,122.20 671.7,122.39 672.2,122.57 672.7,122.75 673.2,122.93 673.7,123.11 674.2,123.29 674.7,123.47 675.2,123.65 675.7,123.83 676.2,124.01 676.7,124.19 677.2,124.38 677.7,124.56 678.2,124.75 678.7,124.93 679.2,125.12 679.7,125.31 680.2,125.51 680.7,125.70 681.2,125.90 681.7,126.10 682.2,126.31 682.7,126.52 683.2,126.73 683.7,126.95" stroke="#ff0000" stroke-dasharray="1.3 2.65" />
<polyline points="507.4,40.96 507.9,40.96 508.4,40.97 508.9,40.97 509.4,40.98 509.9,41.00 510.4,41.01 510.9,41.03 511.4,41.06 511.9,41.08 512.4,41.11 512.9,41.14 513.4,41.17 513.9,41.21 514.4,41.25 514.9,41.30 515.4,41.34 515.9,41.39 516.4,41.44 516.9,41.50 517.4,41.56 517.9,41.62 518.4,41.68 518.9,41.75 519.4,41.82 519.9,41.89 520.4,41.97 520.9,42.05 521.4,42.13 521.9,42.21 522.4,42.30 522.9,42.39 523.4,42.48 523.9,42.58 524.4,42.68 524.9,42.78 525.4,42.88 525.9,42.99 526.4,43.10 526.9,43.22 527.4,43.33 527.9,43.45 528.4,43.57 528.9,43.70 529.4,43.83 529.9,43.96 530.4,44.09 530.9,44.23 531.4,44.37 531.9,44.51 532.4,44.65 532.9,44.80 533.4,44.95 533.9,45.11 534.5,45.26 535.0,45.42 535.5,45.58 536.0,45.75 536.5,45.91 537.0,46.08 537.5,46.25 538.0,46.43 538.5,46.61 539.0,46.79 539.5,46.97 540.0,47.16 540.5,47.34 541.0,47.53 541.5,47.73 542.0,47.92 542.5,48.12 543.0,48.33 543.5,48.53 544.0,48.74 544.5,48.95 545.0,49.16 545.5,49.37 546.0,49.59 546.5,49.81 547.0,50.03 547.5,50.25 548.0,50.48 548.5,50.71 549.0,50.94 549.5,51.18 550.0,51.41 550.5,51.65 551.0,51.89 551.5,52.14 552.0,52.38 552.5,52.63 553.0,52.88 553.5,53.13 554.0,53.39 554.5,53.65 555.0,53.91 555.5,54.17 556.0,54.43 556.5,54.70 557.0,54.97 557.5,55.24 558.0,55.51 558.5,55.79 559.0,56.07 559.5,56.35 560.0,56.63 560.5,56.91 561.0,57.20 561.5,57.49 562.0,57.78 562.5,58.07 563.0,58.36 563.5,58.66 564.0,58.96 564.5,59.26 565.0,59.56 565.5,59.86 566.0,60.17 566.5,60.48 567.0,60.79 567.5,61.10 568.0,61.41 568.5,61.73 569.0,62.04 569.5,62.36 570.0,62.68 570.5,63.01 571.0,63.33 571.5,63.65 572.0,63.98 572.5,64.31 573.0,64.64 573.5,64.97 574.0,65.31 574.5,65.64 575.0,65.98 575.5,66.32 576.0,66.66 576.5,67.00 577.0,67.34 577.5,67.68 578.0,68.03 578.5,68.38 579.0,68.72 579.5,69.07 580.0,69.42 580.5,69.78 581.0,70.13 581.5,70.48 582.0,70.84 582.5,71.20 583.0,71.55 583.5,71.91 584.0,72.27 584.5,72.64 585.0,73.00 585.5,73.36 586.0,73.73 586.5,74.09 587.0,74.46 587.5,74.83 588.1,75.20 588.6,75.57 589.1,75.94 589.6,76.31 590.1,76.68 590.6,77.06 591.1,77.43 591.6,77.80 592.1,78.18 592.6,78.56 593.1,78.93 593.6,79.31 594.1,79.69 594.6,80.07 595.1,80.45 595.6,80.83 596.1,81.21 596.6,81.59 597.1,81.98 597.6,82.36 598.1,82.74 598.6,83.13 599.1,83.51 599.6,83.89 600.1,84.28 600.6,84.67 601.1,85.05 601.6,85.44 602.1,85.82 602.6,86.21 603.1,86.60 603.6,86.99 604.1,87.37 604.6,87.76 605.1,88.15 605.6,88.54 606.1,88.93 606.6,89.32 607.1,89.71 607.6,90.10 608.1,90.49 608.6,90.87 609.1,91.26 609.6,91.65 610.1,92.04 610.6,92.43 611.1,92.82 611.6,93.21 612.1,93.60 612.6,93.99 613.1,94.38 613.6,94.77 614.1,95.16 614.6,95.55 615.1,95.94 615.6,96.33 616.1,96.72 616.6,97.10 617.1,97.49 617.6,97.88 618.1,98.27 618.6,98.66 619.1,99.05 619.6,99.43 620.1,99.82 620.6,100.21 621.1,100.59 621.6,100.98 622.1,101.36 622.6,101.75 623.1,102.14 623.6,102.52 624.1,102.90 624.6,103.29 625.1,103.67 625.6,104.06 626.1,104.44 626.6,104.82 627.1,105.20 627.6,105.59 628.1,105.97 628.6,106.35 629.1,106.73 629.6,107.11 630.1,107.49 630.6,107.87 631.1,108.24 631.6,108.62 632.1,109.00 632.6,109.38 633.1,109.75 633.6,110.13 634.1,110.51 634.6,110.88 635.1,111.26 635.6,111.63 636.1,112.00 636.6,112.38 637.1,112.75 637.6,113.12 638.1,113.49 638.6,113.86 639.1,114.23 639.6,114.60 640.1,114.97 640.6,115.34 641.2,115.71 641.7,116.08 642.2,116.44 642.7,116.81 643.2,117.18 643.7,117.54 644.2,117.91 644.7,118.27 645.2,118.63 645.7,119.00 646.2,119.36 646.7,119.72 647.2,120.08 647.7,120.44 648.2,120.80 648.7,121.16 649.2,121.52 649.7,121.88 650.2,122.24 650.7,122.59 651.2,122.95 651.7,123.31 652.2,123.66 652.7,124.02 653.2,124.37 653.7,124.72 654.2,125.08 654.7,125.43 655.2,125.78 655.7,126.13 656.2,126.48 656.7,126.83 657.2,127.18 657.7,127.53 658.2,127.87 658.7,128.22 659.2,128.57 659.7,128.91 660.2,129.25 660.7,129.60 661.2,129.94 661.7,130.28 662.2,130.62 662.7,130.96 663.2,131.30 663.7,131.64 664.2,131.98 664.7,132.32 665.2,132.65 665.7,132.99 666.2,133.32 666.7,133.65 667.2,133.98 667.7,134.31 668.2,134.64 668.7,134.97 669.2,135.29 669.7,135.62 670.2,135.94 670.7,136.26 671.2,136.58 671.7,136.90 672.2,137.22 672.7,137.54 673.2,137.85 673.7,138.16 674.2,138.47 674.7,138.78 675.2,139.09 675.7,139.39 676.2,139.70 676.7,140.00 677.2,140.29 677.7,140.59 678.2,140.88 678.7,141.17 679.2,141.46 679.7,141.74 680.2,142.02 680.7,142.30 681.2,142.58 681.7,142.85 682.2,143.12 682.7,143.38 683.2,143.64 683.7,143.90" stroke="#0000ff" stroke-dasharray="5.8 2.7 1.2 2.7" />
</g>
<path d="M505.95 4.6H685.05M505.95 177.2H685.05" stroke="#555555" stroke-width="1.1" fill="none"/>
<path d="M506.5 4.6V177.2" stroke="#5c5c5c" stroke-width="1.1" fill="none"/>
<path d="M684.5 4.6V177.2" stroke="#555555" stroke-width="1.1" fill="none"/>
<text x="507.90" y="188.9" class="t" text-anchor="middle">0</text>
<text x="533.09" y="188.9" class="t" text-anchor="middle">1</text>
<text x="558.28" y="188.9" class="t" text-anchor="middle">2</text>
<text x="583.47" y="188.9" class="t" text-anchor="middle">3</text>
<text x="608.66" y="188.9" class="t" text-anchor="middle">4</text>
<text x="633.85" y="188.9" class="t" text-anchor="middle">5</text>
<text x="659.04" y="188.9" class="t" text-anchor="middle">6</text>
<text x="684.23" y="188.9" class="t" text-anchor="middle">7</text>
<text x="502.5" y="178.70" class="t" text-anchor="end">0</text>
<text x="502.5" y="122.10" class="t" text-anchor="end">0.0005</text>
<text x="502.5" y="65.50" class="t" text-anchor="end">0.0010</text>
<text x="502.5" y="8.90" class="t" text-anchor="end">0.0015</text>
<text x="15.2" y="76.2" class="ax">ρ</text>
<text x="2.3" y="86.2" class="mev" textLength="26.5" lengthAdjust="spacingAndGlyphs">(MeV <tspan font-style="italic">fm</tspan></text><text x="29.6" y="83.3" class="sup" textLength="5" lengthAdjust="spacingAndGlyphs">−3</text><text x="34.9" y="86.2" class="mev">)</text>
<text x="249.6" y="89.2" class="ax" font-style="italic">p</text><text x="253.9" y="92.7" class="sub" font-style="italic">r</text>
<text x="236.8" y="102.4" class="mev" textLength="26.5" lengthAdjust="spacingAndGlyphs">(MeV <tspan font-style="italic">fm</tspan></text><text x="264.1" y="99.5" class="sup" textLength="5" lengthAdjust="spacingAndGlyphs">−3</text><text x="269.4" y="102.4" class="mev">)</text>
<text x="478" y="88.7" class="ax" font-style="italic">P</text>
<path d="M488.4 87.4V91.2M485.9 91.3H490.9" stroke="#333" stroke-width="0.75" fill="none"/>
<text x="470.2" y="102.3" class="mev" textLength="26.5" lengthAdjust="spacingAndGlyphs">(MeV <tspan font-style="italic">fm</tspan></text><text x="497.5" y="99.4" class="sup" textLength="5" lengthAdjust="spacingAndGlyphs">−3</text><text x="502.8" y="102.3" class="mev">)</text>
<text x="129.3" y="199.6" class="rt">r</text>
<text x="136.9" y="199.6" class="km" textLength="16.4" lengthAdjust="spacingAndGlyphs">(km)</text>
<text x="362.6" y="199.6" class="rt">r</text>
<text x="370.6" y="199.6" class="km" textLength="16.4" lengthAdjust="spacingAndGlyphs">(km)</text>
<text x="593.3" y="199.6" class="rt">r</text>
<text x="599.6" y="199.6" class="km" textLength="16.4" lengthAdjust="spacingAndGlyphs">(km)</text>
<g transform="translate(0,0)"><rect x="59.5" y="205.5" width="106" height="14" fill="#fff" stroke="#666" stroke-width="1.1" rx="0.4"/><path d="M62.3 211.6H80" stroke="#ff0000" stroke-width="1.6" stroke-linecap="round" stroke-dasharray="0 4.1"/><path d="M106.9 211.6H126" stroke="#0000ff" stroke-width="1.3" stroke-dasharray="5.7 2.8 1.2 2.8"/><text x="83.4" y="214.1" class="lg" font-style="italic" style="fill:#ff0000;stroke:#ff0000">c</text><text x="87.2" y="217.3" class="lgs" style="fill:#ff0000;fill-opacity:0.75">1</text><rect x="93.3" y="210.0" width="4.8" height="2.4" fill="#ff0000" fill-opacity="0.45"/><text x="128.8" y="214.1" class="lg" font-style="italic" style="fill:#0000ff;stroke:#0000ff">c</text><text x="132.4" y="217.3" class="lgs" style="fill:#0000ff;fill-opacity:0.75">1</text><rect x="138.4" y="210.0" width="4.8" height="2.4" fill="#0000ff" fill-opacity="0.45"/><text x="100.1" y="214.2" class="lg" style="fill:#ff0000;stroke:#ff0000">0</text><path d="M144.0 211.6h3.3" stroke="#0000ff" stroke-width="0.8"/><text x="148.1" y="214.2" class="lg" style="fill:#0000ff;stroke:#0000ff" textLength="14.6" lengthAdjust="spacingAndGlyphs">0.01</text></g>
<g transform="translate(231,0)"><rect x="59.5" y="205.5" width="106" height="14" fill="#fff" stroke="#666" stroke-width="1.1" rx="0.4"/><path d="M62.3 211.6H80" stroke="#ff0000" stroke-width="1.6" stroke-linecap="round" stroke-dasharray="0 4.1"/><path d="M106.9 211.6H126" stroke="#0000ff" stroke-width="1.3" stroke-dasharray="5.7 2.8 1.2 2.8"/><text x="83.4" y="214.1" class="lg" font-style="italic" style="fill:#ff0000;stroke:#ff0000">c</text><text x="87.2" y="217.3" class="lgs" style="fill:#ff0000;fill-opacity:0.75">1</text><rect x="93.3" y="210.0" width="4.8" height="2.4" fill="#ff0000" fill-opacity="0.45"/><text x="128.8" y="214.1" class="lg" font-style="italic" style="fill:#0000ff;stroke:#0000ff">c</text><text x="132.4" y="217.3" class="lgs" style="fill:#0000ff;fill-opacity:0.75">1</text><rect x="138.4" y="210.0" width="4.8" height="2.4" fill="#0000ff" fill-opacity="0.45"/><text x="100.1" y="214.2" class="lg" style="fill:#ff0000;stroke:#ff0000">0</text><path d="M144.0 211.6h3.3" stroke="#0000ff" stroke-width="0.8"/><text x="148.1" y="214.2" class="lg" style="fill:#0000ff;stroke:#0000ff" textLength="14.6" lengthAdjust="spacingAndGlyphs">0.01</text></g>
<g transform="translate(462,0)"><rect x="59.5" y="205.5" width="106" height="14" fill="#fff" stroke="#666" stroke-width="1.1" rx="0.4"/><path d="M62.3 211.6H80" stroke="#ff0000" stroke-width="1.6" stroke-linecap="round" stroke-dasharray="0 4.1"/><path d="M106.9 211.6H126" stroke="#0000ff" stroke-width="1.3" stroke-dasharray="5.7 2.8 1.2 2.8"/><text x="83.4" y="214.1" class="lg" font-style="italic" style="fill:#ff0000;stroke:#ff0000">c</text><text x="87.2" y="217.3" class="lgs" style="fill:#ff0000;fill-opacity:0.75">1</text><rect x="93.3" y="210.0" width="4.8" height="2.4" fill="#ff0000" fill-opacity="0.45"/><text x="128.8" y="214.1" class="lg" font-style="italic" style="fill:#0000ff;stroke:#0000ff">c</text><text x="132.4" y="217.3" class="lgs" style="fill:#0000ff;fill-opacity:0.75">1</text><rect x="138.4" y="210.0" width="4.8" height="2.4" fill="#0000ff" fill-opacity="0.45"/><text x="100.1" y="214.2" class="lg" style="fill:#ff0000;stroke:#ff0000">0</text><path d="M144.0 211.6h3.3" stroke="#0000ff" stroke-width="0.8"/><text x="148.1" y="214.2" class="lg" style="fill:#0000ff;stroke:#0000ff" textLength="14.6" lengthAdjust="spacingAndGlyphs">0.01</text></g>
<text x="44.9" y="238.1" class="cap" textLength="136.4" lengthAdjust="spacingAndGlyphs">(a) Density of solution (<tspan fill="#1414eb">12</tspan>)</text>
<text x="255.8" y="238.1" class="cap" textLength="176.5" lengthAdjust="spacingAndGlyphs">(b) Radial pressure of solution (<tspan fill="#1414eb">12</tspan>)</text>
<text x="477" y="238.1" class="cap" textLength="196.3" lengthAdjust="spacingAndGlyphs">(c) Transverse pressure of solution (<tspan fill="#1414eb">12</tspan>)</text>
</svg>
</body></html>
